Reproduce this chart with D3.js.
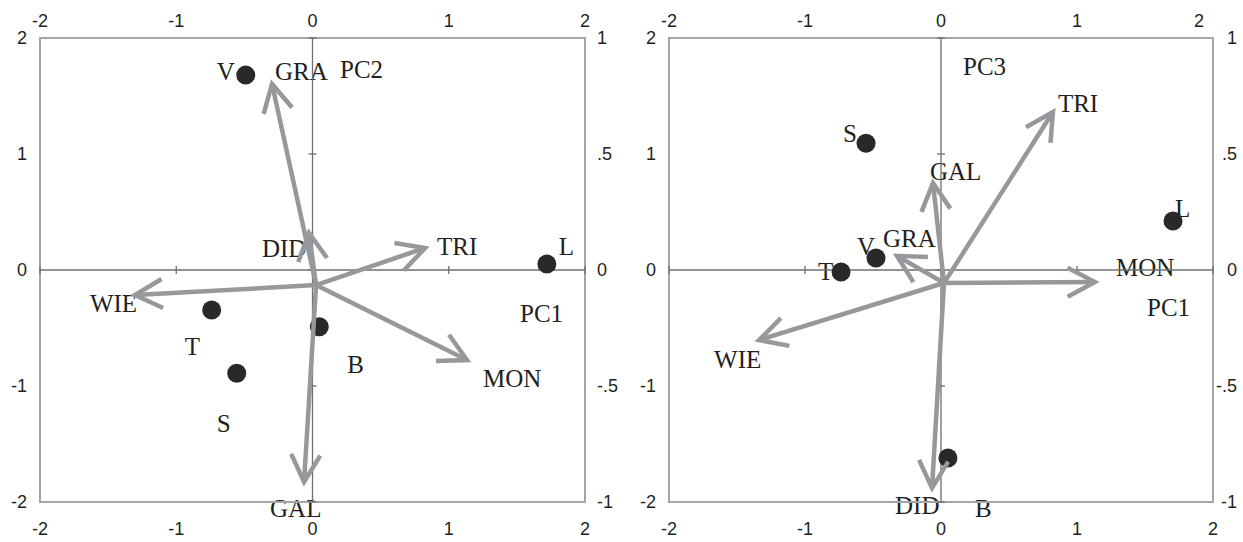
<!DOCTYPE html>
<html>
<head>
<meta charset="utf-8">
<script src="https://cdn.jsdelivr.net/npm/d3@7"></script>
<style>
  html, body { margin: 0; padding: 0; background: #ffffff; }
  svg { display: block; }
</style>
</head>
<body>
<svg id="chart" width="1243" height="542"></svg>
<script>
// ---------- data ----------
const xTicks = [-2, -1, 0, 1, 2];
const yTicks = [-2, -1, 0, 1, 2];
const yRightTicks = [1, 0.5, 0, -0.5, -1];
const yRightTickLabels = ["1", ".5", "0", "-.5", "-1"];

// Panel 1: PC1 vs PC2
const p1Sites = ["V", "L", "T", "S", "B"];
const p1SiteX = [-0.49, 1.72, -0.74, -0.556, 0.05];
const p1SiteY = [1.68, 0.052, -0.345, -0.89, -0.489];
const p1Vars = ["GRA", "DID", "TRI", "WIE", "MON", "GAL"];
const p1VarX = [-0.297, -0.026, 0.826, -1.303, 1.134, -0.062];
const p1VarY = [0.802, 0.160, 0.095, -0.108, -0.388, -0.914];
const p1Origin = [0.026, -0.065];
const p1AxisTitles = ["PC2", "PC1"];
const p1AxisTitleX = [0.202, 1.523];
const p1AxisTitleY = [1.655, -0.448];

// Panel 2: PC1 vs PC3
const p2Sites = ["S", "L", "V", "T", "B"];
const p2SiteX = [-0.551, 1.706, -0.478, -0.735, 0.051];
const p2SiteY = [1.092, 0.422, 0.103, -0.017, -1.621];
const p2Vars = ["GAL", "GRA", "TRI", "MON", "WIE", "DID"];
const p2VarX = [-0.059, -0.324, 0.823, 1.132, -1.338, -0.066];
const p2VarY = [0.375, 0.061, 0.681, -0.052, -0.302, -0.94];
const p2Origin = [0.022, -0.056];
const p2AxisTitles = ["PC3", "PC1"];
const p2AxisTitleX = [0.162, 1.515];
const p2AxisTitleY = [1.681, -0.397];

// ---------- label placement (pixel offsets, layout only) ----------
const p1SiteLabelOffset = [[-29, 5], [12, -9], [-27, 45], [-20, 59], [28, 46]];
const p1VarLabelOffset = [[3, -4], [-47, 24], [12, 7], [-45, 17], [16, 27], [-34, 35]];
const p2SiteLabelOffset = [[-23, -1], [2, -4], [-19, -3], [-23, 8], [27, 59]];
const p2VarLabelOffset = [[-3, -3], [-14, -9], [5, 0], [21, -6], [-45, 28], [-37, 26]];

// ---------- style ----------
const TEXT = "#231f20";
const DOT = "#2b2829";
const ARROW = "#96989b";
const FRAME = "#a3a5a8";
const AXIS = "#6d6e71";
const SERIF = "'Liberation Serif', 'Times New Roman', serif";
const SANS = "'Liberation Sans', Arial, sans-serif";

const svg = d3.select("#chart");

function panel(cfg) {
  const x = d3.scaleLinear().domain([-2, 2]).range([cfg.left, cfg.right]);
  const y = d3.scaleLinear().domain([-2, 2]).range([cfg.bottom, cfg.top]);
  const yR = d3.scaleLinear().domain([-1, 1]).range([cfg.bottom, cfg.top]);
  const g = svg.append("g");

  // tick labels
  const tl = g.append("g").attr("font-family", SANS).attr("font-size", 18).attr("fill", TEXT);
  tl.selectAll(".xt").data(xTicks).join("text")
    .attr("x", (d, i) => x(d) + (cfg.topShift && i === xTicks.length - 1 ? cfg.topShift : 0))
    .attr("y", cfg.top - 11).attr("text-anchor", "middle").text(d => d);
  tl.selectAll(".xb").data(xTicks).join("text")
    .attr("x", d => x(d)).attr("y", cfg.bottom + 33).attr("text-anchor", "middle").text(d => d);
  tl.selectAll(".yl").data(yTicks).join("text")
    .attr("x", cfg.left - 13).attr("y", d => y(d) + 6).attr("text-anchor", "end").text(d => d);
  tl.selectAll(".yr").data(yRightTicks).join("text")
    .attr("x", cfg.rightLabelX).attr("y", d => yR(d) + 6)
    .attr("text-anchor", cfg.rightAnchor).text((d, i) => yRightTickLabels[i]);

  // serif labels
  const lab = g.append("g").attr("font-family", SERIF).attr("font-size", 25).attr("fill", TEXT);
  lab.selectAll(".site").data(cfg.sites).join("text")
    .attr("x", (d, i) => x(cfg.siteX[i]) + cfg.siteOff[i][0])
    .attr("y", (d, i) => y(cfg.siteY[i]) + cfg.siteOff[i][1])
    .text(d => d);
  lab.selectAll(".var").data(cfg.vars).join("text")
    .attr("x", (d, i) => x(cfg.varX[i]) + cfg.varOff[i][0])
    .attr("y", (d, i) => yR(cfg.varY[i]) + cfg.varOff[i][1])
    .text(d => d);
  lab.selectAll(".title").data(cfg.titles).join("text")
    .attr("x", (d, i) => x(cfg.titleX[i]))
    .attr("y", (d, i) => y(cfg.titleY[i]))
    .text(d => d);

  // frame
  g.append("rect")
    .attr("x", cfg.left).attr("y", cfg.top)
    .attr("width", cfg.right - cfg.left).attr("height", cfg.bottom - cfg.top)
    .attr("fill", "none").attr("stroke", FRAME).attr("stroke-width", 2);

  // zero axes with crossing ticks
  const ax = g.append("g").attr("stroke", AXIS).attr("stroke-width", 1.3);
  ax.append("line").attr("x1", x(-2)).attr("x2", x(2)).attr("y1", y(0)).attr("y2", y(0));
  ax.append("line").attr("x1", x(0)).attr("x2", x(0)).attr("y1", y(-2)).attr("y2", y(2));
  ax.selectAll(".tx").data(xTicks).join("line")
    .attr("x1", d => x(d)).attr("x2", d => x(d)).attr("y1", y(0) - 4).attr("y2", y(0) + 4);
  ax.selectAll(".ty").data(yTicks).join("line")
    .attr("x1", x(0) - 4).attr("x2", x(0) + 4).attr("y1", d => y(d)).attr("y2", d => y(d));

  // points
  g.append("g").selectAll("circle").data(cfg.sites).join("circle")
    .attr("cx", (d, i) => x(cfg.siteX[i]))
    .attr("cy", (d, i) => y(cfg.siteY[i]))
    .attr("r", 9.5).attr("fill", DOT);

  // arrows
  const ox = x(cfg.origin[0]), oy = yR(cfg.origin[1]);
  const ag = g.append("g").attr("stroke", ARROW).attr("stroke-width", 4.5).attr("fill", "none")
    .attr("stroke-linejoin", "miter").attr("stroke-miterlimit", 10);
  cfg.vars.forEach((v, i) => {
    const tx = x(cfg.varX[i]), ty = yR(cfg.varY[i]);
    ag.append("line").attr("x1", ox).attr("y1", oy).attr("x2", tx).attr("y2", ty);
    const ang = Math.atan2(oy - ty, ox - tx);
    const L = 31, a = 28 * Math.PI / 180;
    const b1 = [tx + L * Math.cos(ang + a), ty + L * Math.sin(ang + a)];
    const b2 = [tx + L * Math.cos(ang - a), ty + L * Math.sin(ang - a)];
    ag.append("path").attr("d", d3.line()([b1, [tx, ty], b2]));
  });
}

panel({
  left: 40, right: 585, top: 38, bottom: 502,
  rightLabelX: 597, rightAnchor: "start", topShift: 0,
  sites: p1Sites, siteX: p1SiteX, siteY: p1SiteY, siteOff: p1SiteLabelOffset,
  vars: p1Vars, varX: p1VarX, varY: p1VarY, varOff: p1VarLabelOffset,
  origin: p1Origin,
  titles: p1AxisTitles, titleX: p1AxisTitleX, titleY: p1AxisTitleY
});

panel({
  left: 669, right: 1213, top: 38, bottom: 502,
  rightLabelX: 1237, rightAnchor: "end", topShift: -14,
  sites: p2Sites, siteX: p2SiteX, siteY: p2SiteY, siteOff: p2SiteLabelOffset,
  vars: p2Vars, varX: p2VarX, varY: p2VarY, varOff: p2VarLabelOffset,
  origin: p2Origin,
  titles: p2AxisTitles, titleX: p2AxisTitleX, titleY: p2AxisTitleY
});
</script>
</body>
</html>
